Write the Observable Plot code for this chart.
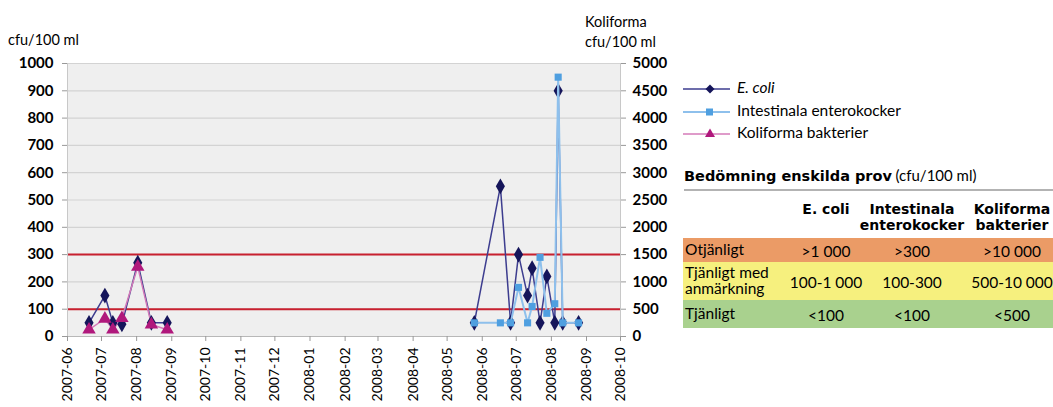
<!DOCTYPE html>
<html><head><meta charset="utf-8">
<script src="https://cdn.jsdelivr.net/npm/d3@7"></script>
<script src="https://cdn.jsdelivr.net/npm/@observablehq/plot@0.6"></script>
<style>
body{margin:0;background:#fff;font-family:Lato,"Open Sans",sans-serif;color:#000;}
#wrap{position:relative;width:1053px;height:407px;overflow:hidden;}
#chart{position:absolute;left:0;top:0;}
.abs{position:absolute;white-space:nowrap;font-size:14px;line-height:16px;}
.leg{position:absolute;left:683px;font-size:15.5px;line-height:16px;white-space:nowrap;}
.leg svg{vertical-align:middle;margin-right:4px;}
.row{position:absolute;left:683px;width:380px;}
.cell{position:absolute;font-size:15.5px;line-height:16px;white-space:nowrap;transform:translateX(-50%);text-align:center;}
.hdr{font-weight:bold;font-family:"DejaVu Sans",sans-serif;font-size:14px;line-height:16px;}
</style></head><body>
<div id="wrap">
<div id="chart"></div>
<div class="abs" style="left:8px;top:32px;font-size:14.5px">cfu/100 ml</div>
<div class="abs" style="left:585px;top:14px;font-size:14.5px">Koliforma</div>
<div class="abs" style="left:585px;top:34px;font-size:14.5px">cfu/100 ml</div>
<div id="legend"></div>
<div id="table"></div>
</div>
<script>
// ---- data ----
const ecoliDates = ["2007-06-20","2007-07-04","2007-07-11","2007-07-19","2007-08-02","2007-08-14","2007-08-28",
  "2008-05-25","2008-06-17","2008-06-26","2008-07-03","2008-07-11","2008-07-15","2008-07-22","2008-07-28","2008-08-04","2008-08-07","2008-08-11","2008-08-25"];
const ecoliValues = [50,150,50,45,270,50,50,
  50,550,50,300,150,250,50,220,50,900,50,50];
const enteroDates = ["2008-05-25","2008-06-17","2008-06-26","2008-07-03","2008-07-11","2008-07-15","2008-07-22","2008-07-28","2008-08-04","2008-08-07","2008-08-11","2008-08-25"];
const enteroValues = [50,50,50,180,50,110,290,85,120,950,50,50];
const koliDates = ["2007-06-20","2007-07-04","2007-07-11","2007-07-19","2007-08-02","2007-08-14","2007-08-28"];
const koliValues = [125,325,125,335,1275,220,125]; // right axis (Koliforma cfu/100 ml)
const leftTicks = [0,100,200,300,400,500,600,700,800,900,1000];
const rightTicks = [0,500,1000,1500,2000,2500,3000,3500,4000,4500,5000];
const limitLines = [100,300];
const seriesNames = ["E. coli","Intestinala enterokocker","Koliforma bakterier"];
const tableTitle = "Bedömning enskilda prov";
const tableUnit = "(cfu/100 ml)";
const tableHeaders = [["E. coli"],["Intestinala","enterokocker"],["Koliforma","bakterier"]];
const tableRowLabels = [["Otjänligt"],["Tjänligt med","anmärkning"],["Tjänligt"]];
const tableValues = [[">1 000",">300",">10 000"],["100-1 000","100-300","500-10 000"],["<100","<100","<500"]];

// ---- styles ----
const ecoliLine="#3d3d8f", ecoliMark="#15155a";
const enteroLine="#8ec0ec", enteroMark="#4f9fe0";
const koliLine="#d47ab8", koliMark="#b0187c";
const rowColors=["#eb9b66","#f6f07e","#a9d18e"];

const parse = d3.utcParse("%Y-%m-%d");
const rows = (dates, values) => dates.map((d,i)=>({date:parse(d), value:values[i], season:d.slice(0,4)}));
const ecoli = rows(ecoliDates, ecoliValues);
const entero = rows(enteroDates, enteroValues);
const koli = rows(koliDates, koliValues);
const ratio = rightTicks[rightTicks.length-1]/leftTicks[leftTicks.length-1];
const x0 = parse("2007-06-01"), x1 = parse("2008-10-01");

const chart = Plot.plot({
  width:680, height:407, marginTop:63, marginBottom:71, marginLeft:67, marginRight:60,
  style:{fontFamily:"Lato, sans-serif", fontSize:"15px", color:"#000", background:"transparent", overflow:"visible"},
  x:{type:"utc", domain:[x0,x1]},
  y:{domain:[0,1000]},
  marks:[
    Plot.frame({fill:"#efefef", stroke:null}),
    Plot.gridY(leftTicks, {stroke:"#d3d3d3", strokeOpacity:1, strokeWidth:1.2}),
    Plot.ruleY(limitLines, {stroke:"#c8202f", strokeWidth:2}),
    Plot.ruleY([0], {stroke:"#b8b8b8"}),
    Plot.ruleX([x0], {stroke:"#c8c8c8"}),
    Plot.ruleX([x1], {stroke:"#c8c8c8"}),
    Plot.axisY(leftTicks, {anchor:"left", tickSize:5, tickPadding:9, fontWeight:"bold", label:null, stroke:"#999", fill:"#000", tickFormat:d=>String(d)}),
    Plot.axisY(leftTicks, {anchor:"right", tickSize:5, tickPadding:7, fontWeight:"bold", label:null, stroke:"#999", fill:"#000", tickFormat:(d,i)=>String(rightTicks[i])}),
    Plot.axisX(d3.utcMonth.range(x0, d3.utcDay.offset(x1,1)), {tickFormat:d3.utcFormat("%Y-%m"), tickRotate:-90, tickSize:5, tickPadding:6, label:null, stroke:"#999", fill:"#000", fontSize:14}),
    Plot.line(ecoli, {x:"date", y:"value", z:"season", stroke:ecoliLine, strokeWidth:1.5}),
    Plot.line(koli, {x:"date", y:d=>d.value/ratio, z:"season", stroke:koliLine, strokeWidth:1.5}),
    Plot.dot(ecoli, {x:"date", y:"value", symbol:"diamond", r:4.8, fill:ecoliMark}),
    Plot.dot(koli, {x:"date", y:d=>d.value/ratio, symbol:"triangle", r:5, fill:koliMark}),
    Plot.line(entero, {x:"date", y:"value", z:"season", stroke:enteroLine, strokeWidth:2}),
    Plot.dot(entero, {x:"date", y:"value", symbol:"square", r:4, fill:enteroMark})
  ]
});
document.getElementById("chart").appendChild(chart);

// ---- legend ----
const legSym = [
  `<path d="M0,8H47" stroke="${ecoliLine}" stroke-width="1.5"/><path d="M27,3.5L31.5,8L27,12.5L22.5,8Z" fill="${ecoliMark}"/>`,
  `<path d="M0,8H47" stroke="${enteroLine}" stroke-width="2"/><rect x="23" y="4.5" width="7" height="7" fill="${enteroMark}"/>`,
  `<path d="M0,8H47" stroke="${koliLine}" stroke-width="1.5"/><path d="M27,2.5L32,11L22,11Z" fill="${koliMark}"/>`
];
const legTops=[79,102,124];
document.getElementById("legend").innerHTML = seriesNames.map((n,i)=>
  `<div class="leg" style="top:${legTops[i]}px"><svg width="50" height="16">${legSym[i]}</svg><span style="${i===0?'font-style:italic':''}">${n}</span></div>`).join("");

// ---- table ----
const colX=[826,912,1012];
let h = `<div class="abs" style="left:684px;top:167px;"><b style="font-family:'DejaVu Sans',sans-serif;font-size:14.5px">${tableTitle}</b> <span style="font-size:15px">${tableUnit}</span></div>`;
h += `<div style="position:absolute;left:684px;top:189px;width:380px;height:2px;background:#b3b3b3"></div>`;
tableHeaders.forEach((lines,j)=>{
  h += `<div class="cell hdr" style="left:${colX[j]}px;top:201px">${lines.join("<br>")}</div>`;
});
const rowTop=[238,262,300], rowH=[24,38,28];
tableRowLabels.forEach((lab,i)=>{
  h += `<div class="row" style="top:${rowTop[i]}px;height:${rowH[i]}px;background:${rowColors[i]}"></div>`;
  const ly = rowTop[i] + rowH[i]/2 - lab.length*8;
  h += `<div class="abs" style="left:685px;top:${ly-1}px;line-height:16px;font-size:15.5px">${lab.join("<br>")}</div>`;
  tableValues[i].forEach((v,j)=>{
    h += `<div class="cell" style="left:${colX[j]}px;top:${rowTop[i]+rowH[i]/2-8+1}px">${v}</div>`;
  });
});
document.getElementById("table").innerHTML = h;
</script>
</body></html>
